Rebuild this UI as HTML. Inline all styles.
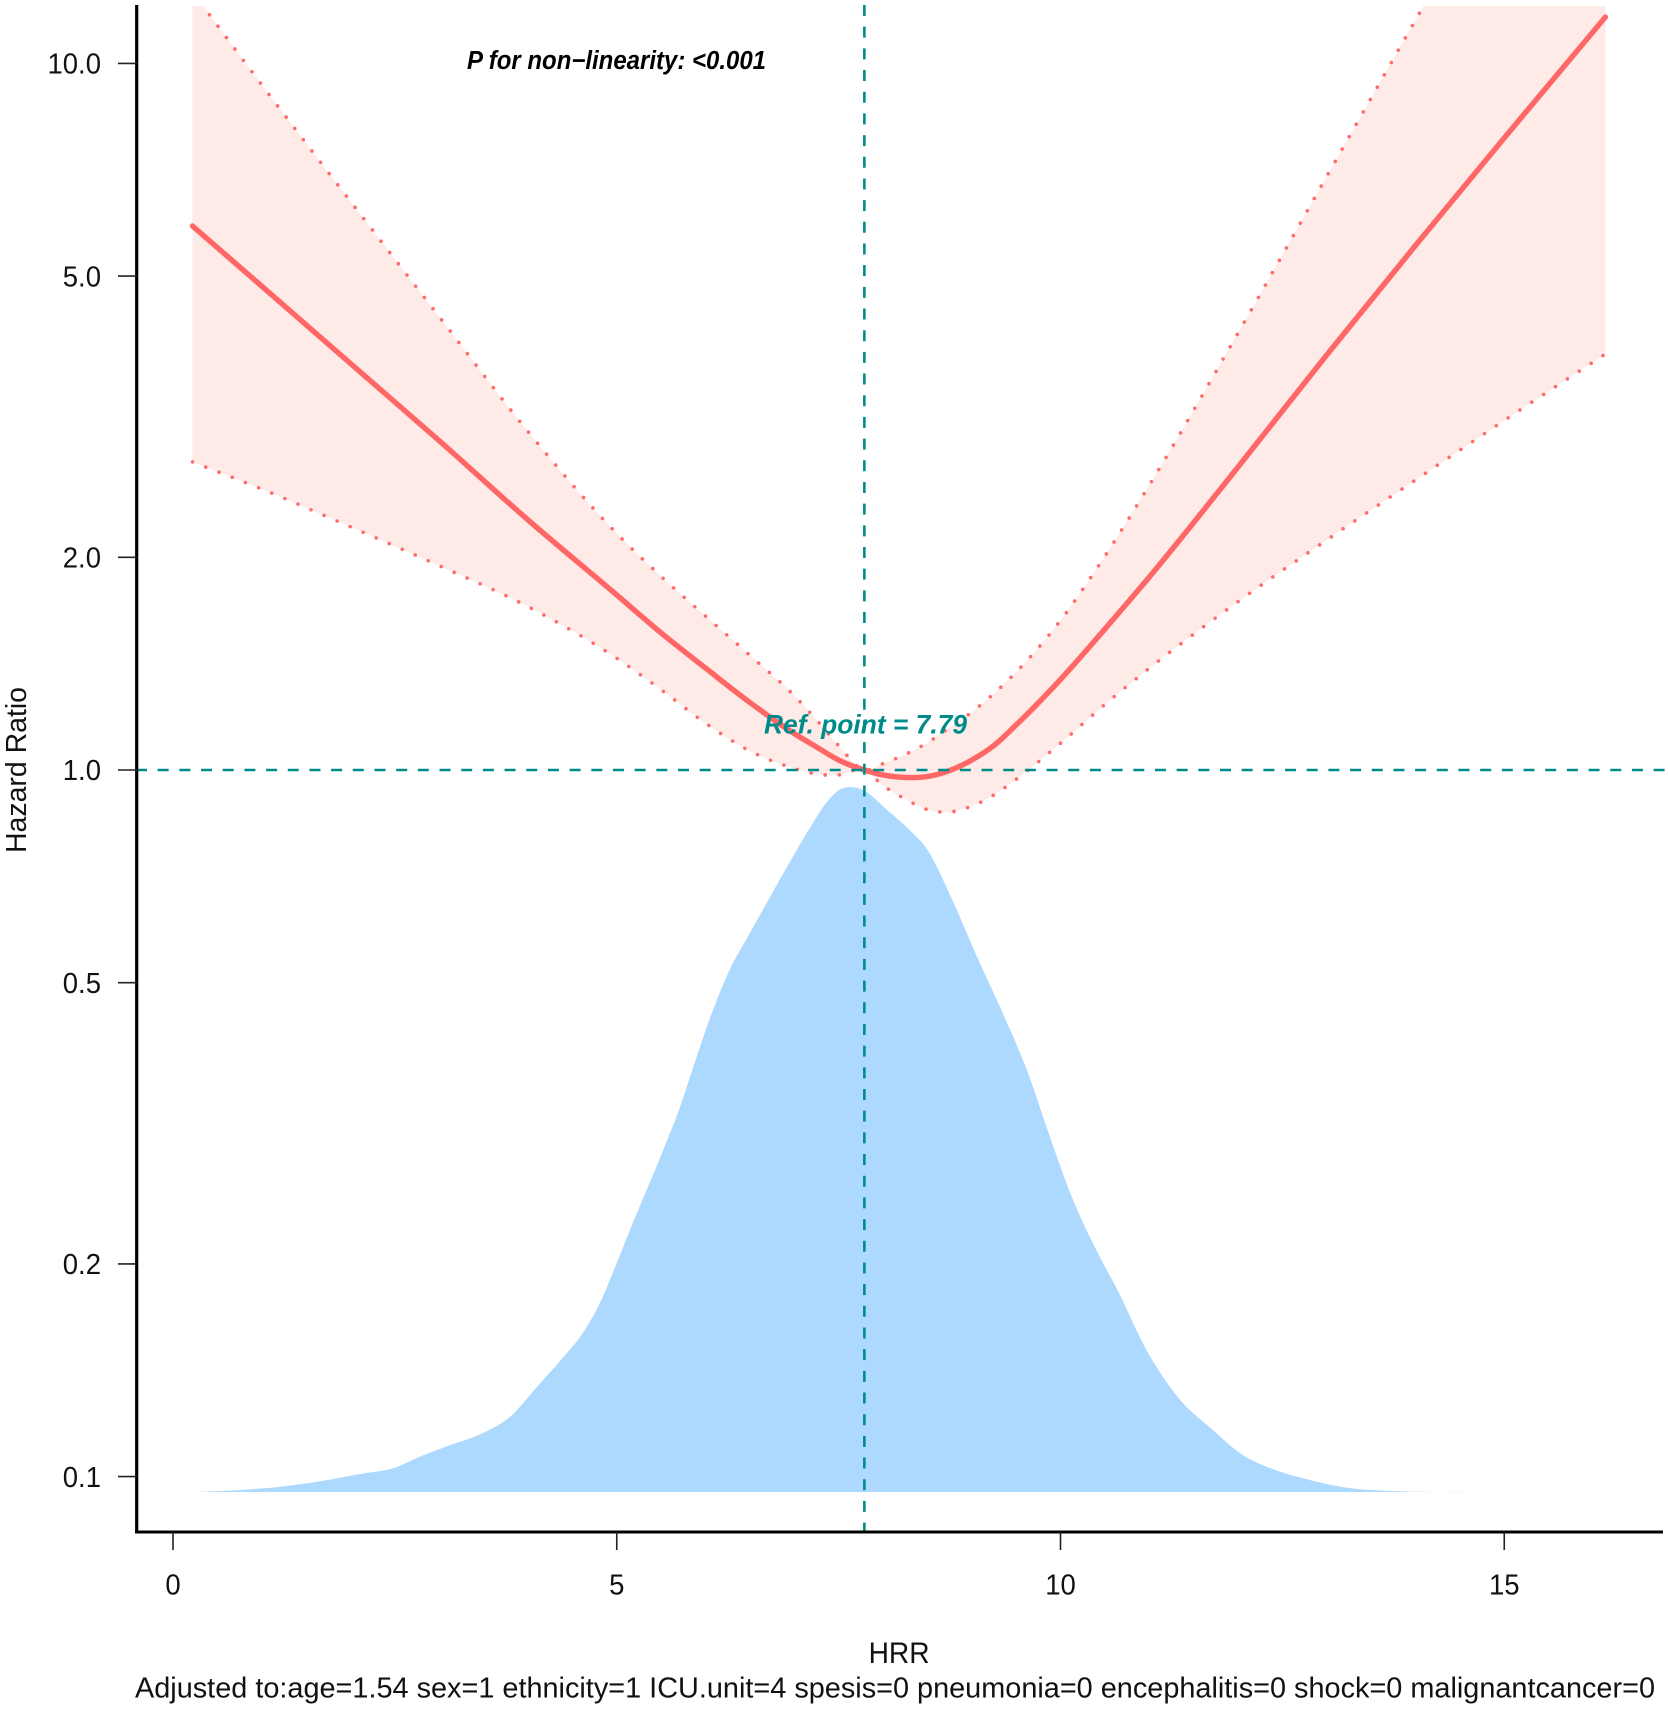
<!DOCTYPE html>
<html lang="en">
<head>
<meta charset="utf-8">
<title>Hazard Ratio by HRR</title>
<style>
html,body{margin:0;padding:0;background:#fff;}
svg{display:block;font-family:"Liberation Sans",Arial,sans-serif;}
</style>
</head>
<body>
<svg id="chart" xmlns="http://www.w3.org/2000/svg" width="1668" height="1709" viewBox="0 0 1668 1709">
  <defs>
    <clipPath id="plot-clip"><rect x="130" y="6" width="1538" height="1526"></rect></clipPath>
  </defs>
  <rect x="0" y="0" width="1668" height="1709" fill="#ffffff"></rect>
  <path id="density" fill="#aed9ff"></path>
  <g clip-path="url(#plot-clip)">
    <path id="band" fill="#feeae6"></path>
    <path id="upper" fill="none" stroke="#ff6b6b" stroke-width="3.6" stroke-linecap="round" stroke-dasharray="0 14.2"></path>
    <path id="lower" fill="none" stroke="#ff6b6b" stroke-width="3.6" stroke-linecap="round" stroke-dasharray="0 14.2"></path>
    <path id="central" fill="none" stroke="#ff6666" stroke-width="5.4" stroke-linecap="round"></path>
  </g>
  <line id="ref-v" stroke="#008b8b" stroke-width="2.6" stroke-dasharray="11 10.68"></line>
  <line id="ref-h" stroke="#008b8b" stroke-width="2.6" stroke-dasharray="11 10.68"></line>
  <line x1="136.7" y1="5" x2="136.7" y2="1533.5" stroke="#000" stroke-width="3.2"></line>
  <line x1="135.1" y1="1532" x2="1663" y2="1532" stroke="#000" stroke-width="3"></line>
  <g id="y-ticks"></g>
  <g id="x-ticks"></g>
  <text x="467" y="69" font-size="25.5" font-weight="bold" font-style="italic" fill="#000" textLength="299" lengthAdjust="spacingAndGlyphs">P for non−linearity: &lt;0.001</text>
  <text x="764" y="733.5" font-size="27" font-weight="bold" font-style="italic" fill="#008b8b" textLength="203" lengthAdjust="spacingAndGlyphs">Ref. point = 7.79</text>
  <text transform="translate(26 853) rotate(-90)" font-size="29" fill="#111" textLength="166" lengthAdjust="spacingAndGlyphs">Hazard Ratio</text>
  <text x="868.6" y="1663" font-size="30" fill="#111" textLength="61" lengthAdjust="spacingAndGlyphs">HRR</text>
  <text x="135" y="1697.5" font-size="29" fill="#111" textLength="1520" lengthAdjust="spacingAndGlyphs">Adjusted to:age=1.54 sex=1 ethnicity=1 ICU.unit=4 spesis=0 pneumonia=0 encephalitis=0 shock=0 malignantcancer=0</text>
</svg>
<script>
var hrrValues = [0.22,1,2,3,4,5,5.5,6,6.5,7,7.25,7.5,7.79,8,8.25,8.5,8.75,9,9.25,9.5,10,10.5,11,12,13,14,15,16.14];
var hazardRatio = [5.887,4.838,3.761,2.924,2.259,1.769,1.563,1.394,1.246,1.126,1.078,1.033,1,0.984,0.976,0.979,0.998,1.033,1.083,1.158,1.343,1.583,1.875,2.684,3.867,5.525,7.843,11.63];
var upperCI = [12.62,9.326,6.379,4.380,3.013,2.161,1.879,1.651,1.453,1.274,1.178,1.083,1,1.021,1.052,1.093,1.148,1.208,1.283,1.376,1.628,2.008,2.529,4.153,6.921,11.52,19.09,33.98];
var lowerCI = [2.729,2.498,2.209,1.946,1.703,1.439,1.299,1.165,1.064,1.005,0.987,0.984,1,0.951,0.910,0.879,0.872,0.889,0.922,0.970,1.091,1.238,1.393,1.731,2.116,2.573,3.124,3.879];
var densityX = [0.24,0.63,1.17,1.65,2.13,2.49,2.78,3.09,3.50,3.80,4.10,4.39,4.62,4.81,5.00,5.15,5.52,5.71,5.86,6.05,6.28,6.47,6.70,6.92,7.21,7.37,7.52,7.63,7.77,8.05,8.30,8.50,8.78,9.06,9.35,9.62,9.88,10.11,10.45,10.64,10.97,11.20,11.38,11.68,12.06,12.36,12.81,13.18,13.83,14.61];
var densityY = [0,0.002,0.007,0.015,0.026,0.034,0.050,0.065,0.084,0.107,0.149,0.190,0.226,0.268,0.325,0.372,0.484,0.545,0.602,0.672,0.743,0.786,0.838,0.887,0.949,0.979,0.997,1,0.996,0.967,0.939,0.911,0.840,0.759,0.679,0.599,0.504,0.424,0.332,0.287,0.201,0.155,0.126,0.092,0.052,0.034,0.017,0.007,0.001,0];
var xTickValues = [0,5,10,15];
var xTickLabels = ["0","5","10","15"];
var yTickValues = [0.1,0.2,0.5,1,2,5,10];
var yTickLabels = ["0.1","0.2","0.5","1.0","2.0","5.0","10.0"];
var refX = 7.79;
var refY = 1;

var NS = 'http://www.w3.org/2000/svg';
function xScale(v){ return 173 + 88.75 * v; }
function yScale(v){ return 770 - 706.6 * Math.log(v) / Math.LN10; }
function dScale(v){ return 1492 - 705 * v; }

function points(xs, ys, fy){
  var out = [];
  for (var i = 0; i < xs.length; i++) { out.push([xScale(xs[i]), fy(ys[i])]); }
  return out;
}
/* cubic Hermite segments through points ordered in x, with non-uniform parabolic slopes */
function segments(p){
  var n = p.length, m = [], segs = [], i;
  for (i = 0; i < n; i++) {
    if (i === 0) { m.push((p[1][1] - p[0][1]) / (p[1][0] - p[0][0])); }
    else if (i === n - 1) { m.push((p[n-1][1] - p[n-2][1]) / (p[n-1][0] - p[n-2][0])); }
    else {
      var h0 = p[i][0] - p[i-1][0], h1 = p[i+1][0] - p[i][0];
      var s0 = (p[i][1] - p[i-1][1]) / h0, s1 = (p[i+1][1] - p[i][1]) / h1;
      m.push((h1 * s0 + h0 * s1) / (h0 + h1));
    }
  }
  for (i = 0; i < n - 1; i++) {
    var dx = (p[i+1][0] - p[i][0]) / 3;
    segs.push({
      c1: [p[i][0] + dx, p[i][1] + m[i] * dx],
      c2: [p[i+1][0] - dx, p[i+1][1] - m[i+1] * dx],
      start: p[i],
      end: p[i+1]
    });
  }
  return segs;
}
function pt(a){ return a[0].toFixed(2) + ' ' + a[1].toFixed(2); }
function forwardPath(p){
  var s = 'M' + pt(p[0]);
  segments(p).forEach(function(g){ s += 'C' + pt(g.c1) + ' ' + pt(g.c2) + ' ' + pt(g.end); });
  return s;
}
function reversePath(p){
  var s = 'L' + pt(p[p.length - 1]);
  segments(p).reverse().forEach(function(g){ s += 'C' + pt(g.c2) + ' ' + pt(g.c1) + ' ' + pt(g.start); });
  return s;
}

var centralPts = points(hrrValues, hazardRatio, yScale);
var upperPts = points(hrrValues, upperCI, yScale);
var lowerPts = points(hrrValues, lowerCI, yScale);
var densityPts = points(densityX, densityY, dScale);

document.getElementById('central').setAttribute('d', forwardPath(centralPts));
document.getElementById('upper').setAttribute('d', forwardPath(upperPts));
document.getElementById('lower').setAttribute('d', forwardPath(lowerPts));
document.getElementById('band').setAttribute('d', forwardPath(upperPts) + reversePath(lowerPts) + 'Z');
document.getElementById('density').setAttribute('d', forwardPath(densityPts) + 'Z');

var rv = document.getElementById('ref-v');
rv.setAttribute('x1', xScale(refX));
rv.setAttribute('x2', xScale(refX));
rv.setAttribute('y1', 5);
rv.setAttribute('y2', 1532);
var rh = document.getElementById('ref-h');
rh.setAttribute('x1', 136);
rh.setAttribute('x2', 1668);
rh.setAttribute('y1', yScale(refY));
rh.setAttribute('y2', yScale(refY));

function condense(t){
  var w = t.getComputedTextLength();
  t.setAttribute('font-size', '29');
  t.setAttribute('textLength', w.toFixed(2));
  t.setAttribute('lengthAdjust', 'spacingAndGlyphs');
}

var yGroup = document.getElementById('y-ticks');
yTickValues.forEach(function(v, i){
  var y = yScale(v);
  var line = document.createElementNS(NS, 'line');
  
  
  line.setAttribute('x1', 118);
  line.setAttribute('x2', 137);
  line.setAttribute('y1', y);
  line.setAttribute('y2', y);
  line.setAttribute('stroke', '#222');
  line.setAttribute('stroke-width', '1.6');
  yGroup.appendChild(line);
  var t = document.createElementNS(NS, 'text');
  
  
  t.setAttribute('x', 101);
  t.setAttribute('y', y + 10.2);
  t.setAttribute('text-anchor', 'end');
  t.setAttribute('font-size', '27.5');
  t.setAttribute('fill', '#111');
  t.textContent = yTickLabels[i];
  yGroup.appendChild(t);
  condense(t);
});

var xGroup = document.getElementById('x-ticks');
xTickValues.forEach(function(v, i){
  var x = xScale(v);
  var line = document.createElementNS(NS, 'line');
  
  
  line.setAttribute('x1', x);
  line.setAttribute('x2', x);
  line.setAttribute('y1', 1532);
  line.setAttribute('y2', 1550);
  line.setAttribute('stroke', '#222');
  line.setAttribute('stroke-width', '1.6');
  xGroup.appendChild(line);
  var t = document.createElementNS(NS, 'text');
  
  
  t.setAttribute('x', x);
  t.setAttribute('y', 1594.5);
  t.setAttribute('text-anchor', 'middle');
  t.setAttribute('font-size', '27.5');
  t.setAttribute('fill', '#111');
  t.textContent = xTickLabels[i];
  xGroup.appendChild(t);
  condense(t);
});
</script>
</body>
</html>
